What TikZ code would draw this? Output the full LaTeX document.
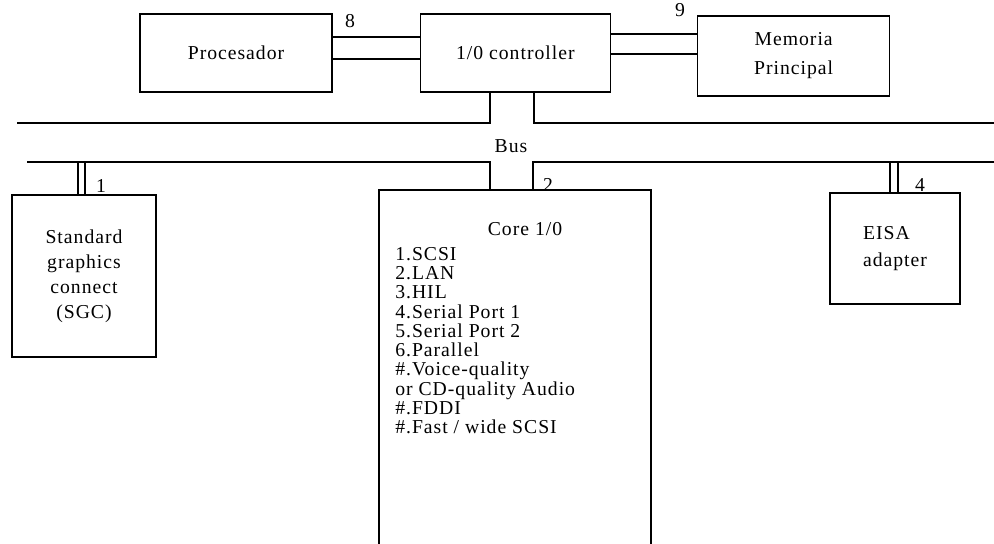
\documentclass[tikz,border=0pt]{standalone}
\usepackage{fontspec}
\setmainfont{Liberation Serif}[LetterSpace=5]
\usetikzlibrary{positioning}
\tikzset{
  blk/.style={
    draw=black, line width=0.9pt, align=center, inner sep=2pt,
    font=\fontsize{14}{17.8}\selectfont
  },
  num/.style={inner sep=0pt, font=\fontsize{14}{14}\selectfont},
  wire/.style={draw=black, line width=0.9pt},
  every picture/.append style={line join=miter}
}
\begin{document}
\begin{tikzpicture}[x=0.025cm, y=-0.025cm, node distance=2.175cm]
  \clip (0,0) rectangle (994,544);
  \node[blk, minimum width=4.8cm, minimum height=1.95cm] (proc) at (236,53) {Procesador};
  \node[blk, right=of proc, minimum width=4.75cm, minimum height=1.95cm] (ctrl) {1/0 controller};
  \node[blk, right=2.15cm of ctrl, yshift=-0.075cm, minimum width=4.8cm, minimum height=2cm,
        font=\fontsize{14}{20.6}\selectfont] (mem) {Memoria\\Principal};
  \node[blk, minimum width=3.6cm, minimum height=4.05cm] (sgc) at (84,276)
    {Standard\\graphics\\connect\\(SGC)};
  \node[blk, minimum width=6.8cm, minimum height=10.25cm] (core) at (515,395) {};
  \node[blk, minimum width=3.25cm, minimum height=2.775cm, align=left,
        font=\fontsize{14}{19.2}\selectfont] (eisa) at (895,248.5) {EISA\\adapter};
  % core I/O contents
  \node[num, anchor=base] (coretitle) at (525,236) {Core 1/0};
  \node[num, anchor=north west, align=left, font=\fontsize{14}{13.7}\selectfont] (corelist) at (395,247)
    {1.SCSI\\2.LAN\\3.HIL\\4.Serial Port 1\\5.Serial Port 2\\6.Parallel\\\#.Voice-quality\\
     or CD-quality Audio\\\#.FDDI\\\#.Fast / wide SCSI};
  % links on top
  \draw[wire] (proc.east |- 0,37) -- (ctrl.west |- 0,37);
  \draw[wire] (proc.east |- 0,59) -- (ctrl.west |- 0,59);
  \draw[wire] (ctrl.east |- 0,34) -- (mem.west |- 0,34);
  \draw[wire] (ctrl.east |- 0,54) -- (mem.west |- 0,54);
  % bus
  \coordinate (busUL) at (17,123);
  \coordinate (busUR) at (994,123);
  \coordinate (busLL) at (27,162);
  \coordinate (busLR) at (994,162);
  \draw[wire] (ctrl.south -| 490,0) |- (busUL);
  \draw[wire] (ctrl.south -| 534,0) |- (busUR);
  \draw[wire] (core.north -| 490,0) |- (busLL);
  \draw[wire] (core.north -| 533,0) |- (busLR);
  \draw[wire] (sgc.north -| 78,0) -- (busLL -| 78,0);
  \draw[wire] (sgc.north -| 85,0) -- (busLL -| 85,0);
  \draw[wire] (eisa.north -| 890,0) -- (busLR -| 890,0);
  \draw[wire] (eisa.north -| 898,0) -- (busLR -| 898,0);
  % labels
  \node[num] (n8) at (350,21) {8};
  \node[num] (n9) at (680,10) {9};
  \node[num] (n1) at (101,186) {1};
  \node[num] (n2) at (548,185) {2};
  \node[num] (n4) at (920,185) {4};
  \node[num] (buslbl) at (511,146) {Bus};
\end{tikzpicture}
\end{document}
